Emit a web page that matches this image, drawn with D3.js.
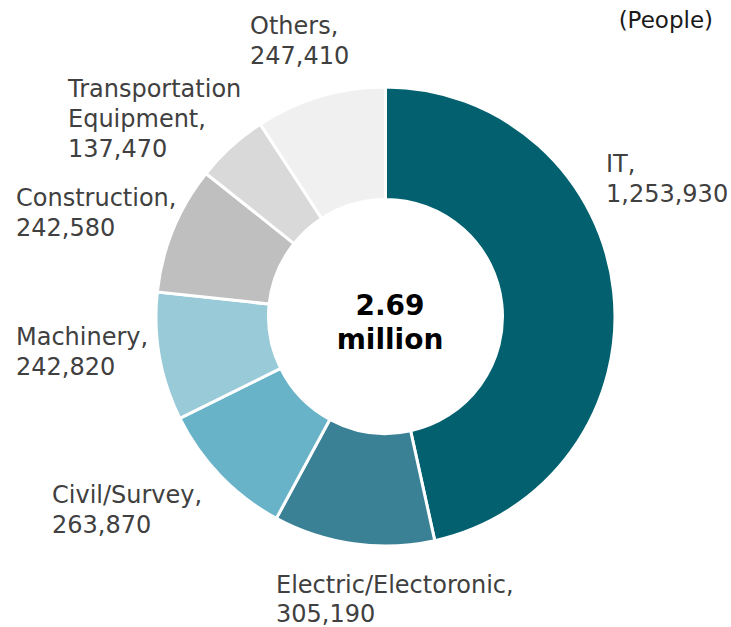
<!DOCTYPE html>
<html>
<head>
<meta charset="utf-8">
<script src="https://cdn.jsdelivr.net/npm/d3@7"></script>
<style>
  body { margin: 0; background: #fff; }
  svg { display: block; }
</style>
</head>
<body>
<svg id="chart" width="731" height="627"></svg>
<script>
// categories and values (people)
var categories = ["IT", "Electric/Electoronic", "Civil/Survey", "Machinery", "Construction", "Transportation Equipment", "Others"]
var values = [1253930, 305190, 263870, 242820, 242580, 137470, 247410]
var colors = ["#02606f", "#3a8196", "#69b3c8", "#98cad8", "#bfbfbf", "#d9d9d9", "#f0f0f0"]
// label lines as they wrap in the picture
var labelLines = [
    ["IT,"],
    ["Electric/Electoronic,"],
    ["Civil/Survey,"],
    ["Machinery,"],
    ["Construction,"],
    ["Transportation", "Equipment,"],
    ["Others,"]
]
// where each label block starts (left x, first baseline)
var labelPos = [[606, 172], [276, 593], [52, 503], [16, 345], [16, 206], [68, 97], [250, 34]]

var svg = d3.select("#chart")
var cx = 385.5, cy = 316.5
var outerR = 229.5, innerR = 117
var lineH = 30
var fmt = d3.format(",")

var pie = d3.pie().sort(null).value(d => d)
var arc = d3.arc().innerRadius(innerR).outerRadius(outerR)

var g = svg.append("g").attr("transform", `translate(${cx}, ${cy})`)

g.selectAll("path")
    .data(pie(values))
    .join("path")
    .attr("d", arc)
    .attr("fill", (d, i) => colors[i])
    .attr("stroke", "#fff")
    .attr("stroke-width", 3)
    .attr("stroke-linejoin", "miter")

// labels
var labels = svg.selectAll("text.lbl")
    .data(categories)
    .join("text")
    .attr("class", "lbl")
    .attr("x", (d, i) => labelPos[i][0])
    .attr("y", (d, i) => labelPos[i][1])
    .style("font-family", "'DejaVu Sans', Verdana, sans-serif")
    .style("font-size", "24px")
    .style("fill", "#404040")

labels.each(function (d, i) {
    var t = d3.select(this)
    var lines = labelLines[i].concat([fmt(values[i])])
    lines.forEach(function (s, k) {
        t.append("tspan")
            .attr("x", labelPos[i][0])
            .attr("dy", k == 0 ? 0 : (i == 1 ? 29 : lineH))
            .text(s)
    })
})

// unit
svg.append("text")
    .attr("x", 713)
    .attr("y", 28)
    .attr("text-anchor", "end")
    .style("font-family", "'DejaVu Sans', Verdana, sans-serif")
    .style("font-size", "23px")
    .style("fill", "#1a1a1a")
    .text("(People)")

// total in the hole
var total = d3.sum(values)
var center = svg.append("text")
    .attr("text-anchor", "middle")
    .style("font-family", "'DejaVu Sans', Verdana, sans-serif")
    .style("font-size", "28px")
    .style("font-weight", "bold")
    .style("fill", "#000")
center.append("tspan").attr("x", 390).attr("y", 315).text((total / 1e6).toFixed(2))
center.append("tspan").attr("x", 390).attr("y", 349).text("million")
</script>
</body>
</html>
